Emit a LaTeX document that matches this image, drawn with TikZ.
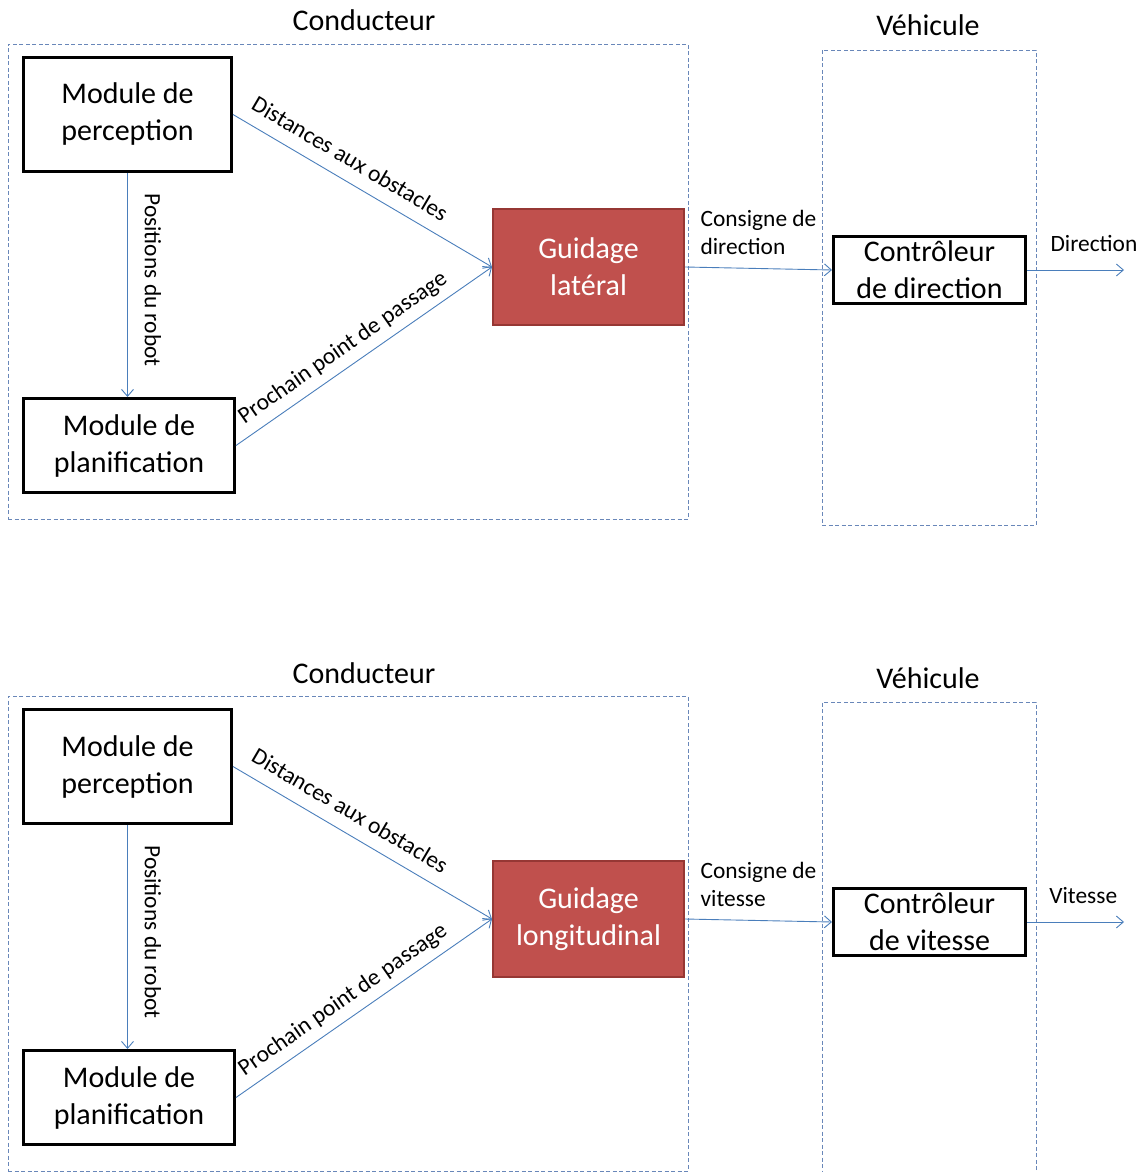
\documentclass[tikz,border=0pt]{standalone}
\usepackage{fontspec}
\setmainfont{Carlito}
\usetikzlibrary{arrows.meta,positioning}
\definecolor{flowblue}{RGB}{74,126,187}
\definecolor{zonegray}{RGB}{105,135,185}
\definecolor{guidered}{RGB}{192,80,77}
\definecolor{guideedge}{RGB}{150,55,52}

\begin{document}
\begin{tikzpicture}[x=1pt,y=-1pt,
  module/.style={draw=black,line width=3pt,fill=white,align=center,inner sep=0pt,font=\fontsize{30}{37}\selectfont},
  guidebox/.style={draw=guideedge,line width=2pt,fill=guidered,text=white,align=center,inner sep=0pt,minimum width=191pt,minimum height=116pt,font=\fontsize{30}{37}\selectfont},
  zone/.style={draw=zonegray,dash pattern=on 4pt off 2.5pt,line width=0.9pt,inner sep=0pt},
  titre/.style={anchor=base,font=\fontsize{30}{36}\selectfont},
  lbl/.style={font=\fontsize{23.4}{28}\selectfont,inner sep=1pt},
  flow/.style={draw=flowblue,line width=0.9pt,-{Straight Barb[length=7pt,width=12pt]}}]
\useasboundingbox (0,0) rectangle (1142,1172);
% one row per controller: lateral (top) and longitudinal (bottom)
\foreach \dy/\sfx/\gtxt/\ctxt/\ktxt/\otxt/\opos in {
    0/a/{Guidage\\latéral}/{Consigne de\\direction}/{Contrôleur\\de direction}/Direction/0.69,
    652/b/{Guidage\\longitudinal}/{Consigne de\\vitesse}/{Contrôleur\\de vitesse}/Vitesse/0.58}{
\begin{scope}[shift={(0,\dy)}]
\node[zone,minimum width=680pt,minimum height=475pt] (cond\sfx) at (348,281.5) {};
\node[zone,minimum width=214pt,minimum height=475pt] (veh\sfx) at (929,287.5) {};
\node[titre] (tcond\sfx) at (364,31) {Conducteur};
\node[titre] (tveh\sfx) at (928,36) {Véhicule};
\node[module,minimum width=208pt,minimum height=114pt] (perc\sfx) at (127.5,114.5) {Module de\\perception};
\node[module,minimum width=211pt,minimum height=94pt] (plan\sfx) at (129,445.5) {Module de\\planification};
\node[guidebox] (guide\sfx) at (588.5,267) {\gtxt};
\node[module,minimum width=192pt,minimum height=67pt] (ctrl\sfx) at (929.5,270) {\ktxt};
\coordinate (out\sfx) at (1124,270);
\draw[flow] (perc\sfx.south) -- (perc\sfx.south |- plan\sfx.north);
\node[lbl,rotate=-90] (rob\sfx) at (153,280) {Positions du robot};
\draw[flow] (perc\sfx.east) -- node[lbl,sloped,above=12pt,pos=0.41] {Distances aux obstacles} (guide\sfx.west);
\draw[flow] (plan\sfx.east) -- node[lbl,sloped,above=7pt,pos=0.46] {Prochain point de passage} (guide\sfx.west);
\draw[flow] (guide\sfx.east) -- node[lbl,above=12pt,align=left] {\ctxt} (ctrl\sfx.west);
\draw[flow] (ctrl\sfx.east) -- node[lbl,above=17pt,pos=\opos] {\otxt} (out\sfx);
\end{scope}
}
\end{tikzpicture}
\end{document}
